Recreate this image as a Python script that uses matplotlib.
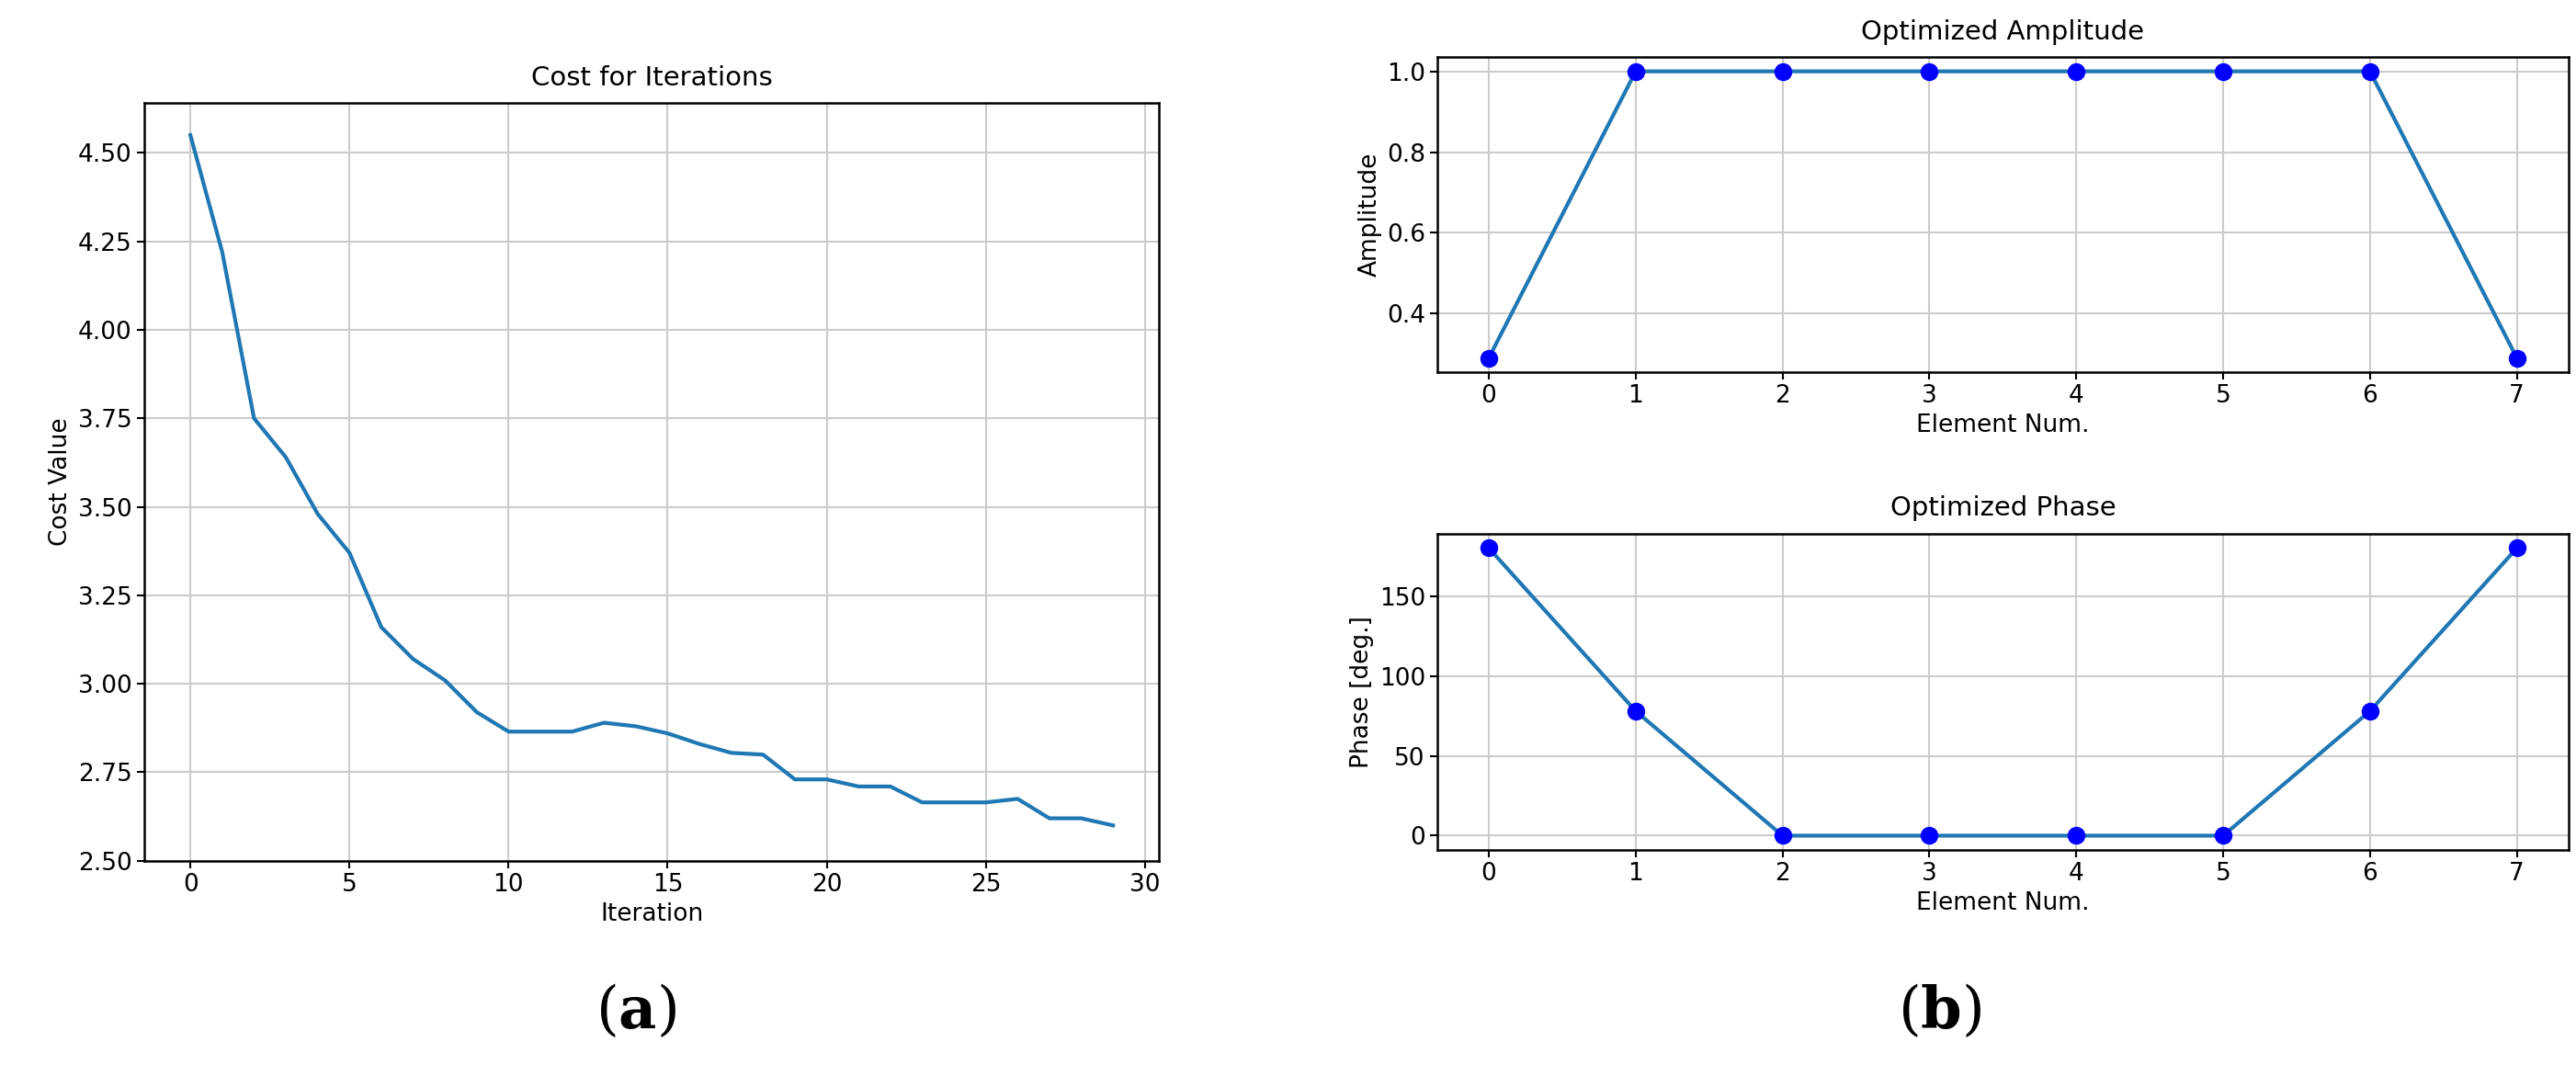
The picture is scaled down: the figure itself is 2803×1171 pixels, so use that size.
import numpy as np
import matplotlib.pyplot as plt

# Data
iterations = np.arange(30)
cost = [4.55, 4.22, 3.75, 3.64, 3.48, 3.37, 3.16, 3.07, 3.01, 2.92,
        2.865, 2.865, 2.865, 2.89, 2.88, 2.86, 2.83, 2.805, 2.80, 2.73,
        2.73, 2.71, 2.71, 2.665, 2.665, 2.665, 2.675, 2.62, 2.62, 2.60]
elements = np.arange(8)
amplitude = [0.29, 1.0, 1.0, 1.0, 1.0, 1.0, 1.0, 0.29]
phase = [180, 78, 0, 0, 0, 0, 78, 180]

fs = 19
plt.rcParams['mathtext.fontset'] = 'dejavuserif'
fig = plt.figure(figsize=(28.03, 11.71), dpi=100)

ax1 = fig.add_axes([0.056, 0.20, 0.394, 0.704])
ax1.plot(iterations, cost, color='#1f77b4', lw=3)
ax1.set_title("Cost for Iterations", fontsize=fs + 2, pad=14)
ax1.set_xlabel("Iteration", fontsize=fs)
ax1.set_ylabel("Cost Value", fontsize=fs)
ax1.set_yticks([2.50, 2.75, 3.00, 3.25, 3.50, 3.75, 4.00, 4.25, 4.50])
ax1.set_ylim(2.50, 4.64)
ax1.grid(True, lw=1.5, color='#cccccc')
ax1.tick_params(labelsize=fs, width=1.5, length=6)

ax2 = fig.add_axes([0.558, 0.654, 0.439, 0.293])
ax2.plot(elements, amplitude, '-o', color='#1f77b4', mfc='blue', mec='blue', ms=13, lw=3)
ax2.set_title("Optimized Amplitude", fontsize=fs + 2, pad=14)
ax2.set_xlabel("Element Num.", fontsize=fs)
ax2.set_ylabel("Amplitude", fontsize=fs)
ax2.set_yticks([0.4, 0.6, 0.8, 1.0])
ax2.grid(True, lw=1.5, color='#cccccc')
ax2.tick_params(labelsize=fs, width=1.5, length=6)

ax3 = fig.add_axes([0.558, 0.21, 0.439, 0.294])
ax3.plot(elements, phase, '-o', color='#1f77b4', mfc='blue', mec='blue', ms=13, lw=3)
ax3.set_title("Optimized Phase", fontsize=fs + 2, pad=14)
ax3.set_xlabel("Element Num.", fontsize=fs)
ax3.set_ylabel("Phase [deg.]", fontsize=fs)
ax3.set_yticks([0, 50, 100, 150])
ax3.grid(True, lw=1.5, color='#cccccc')
ax3.tick_params(labelsize=fs, width=1.5, length=6)

for ax in (ax1, ax2, ax3):
    for s in ax.spines.values():
        s.set_linewidth(1.8)

fig.text(0.247, 0.06, r"($\mathbf{a}$)", fontsize=46, family='DejaVu Serif', ha='center', va='center')
fig.text(0.753, 0.06, r"($\mathbf{b}$)", fontsize=46, family='DejaVu Serif', ha='center', va='center')

fig.savefig("out.png", dpi=100)
